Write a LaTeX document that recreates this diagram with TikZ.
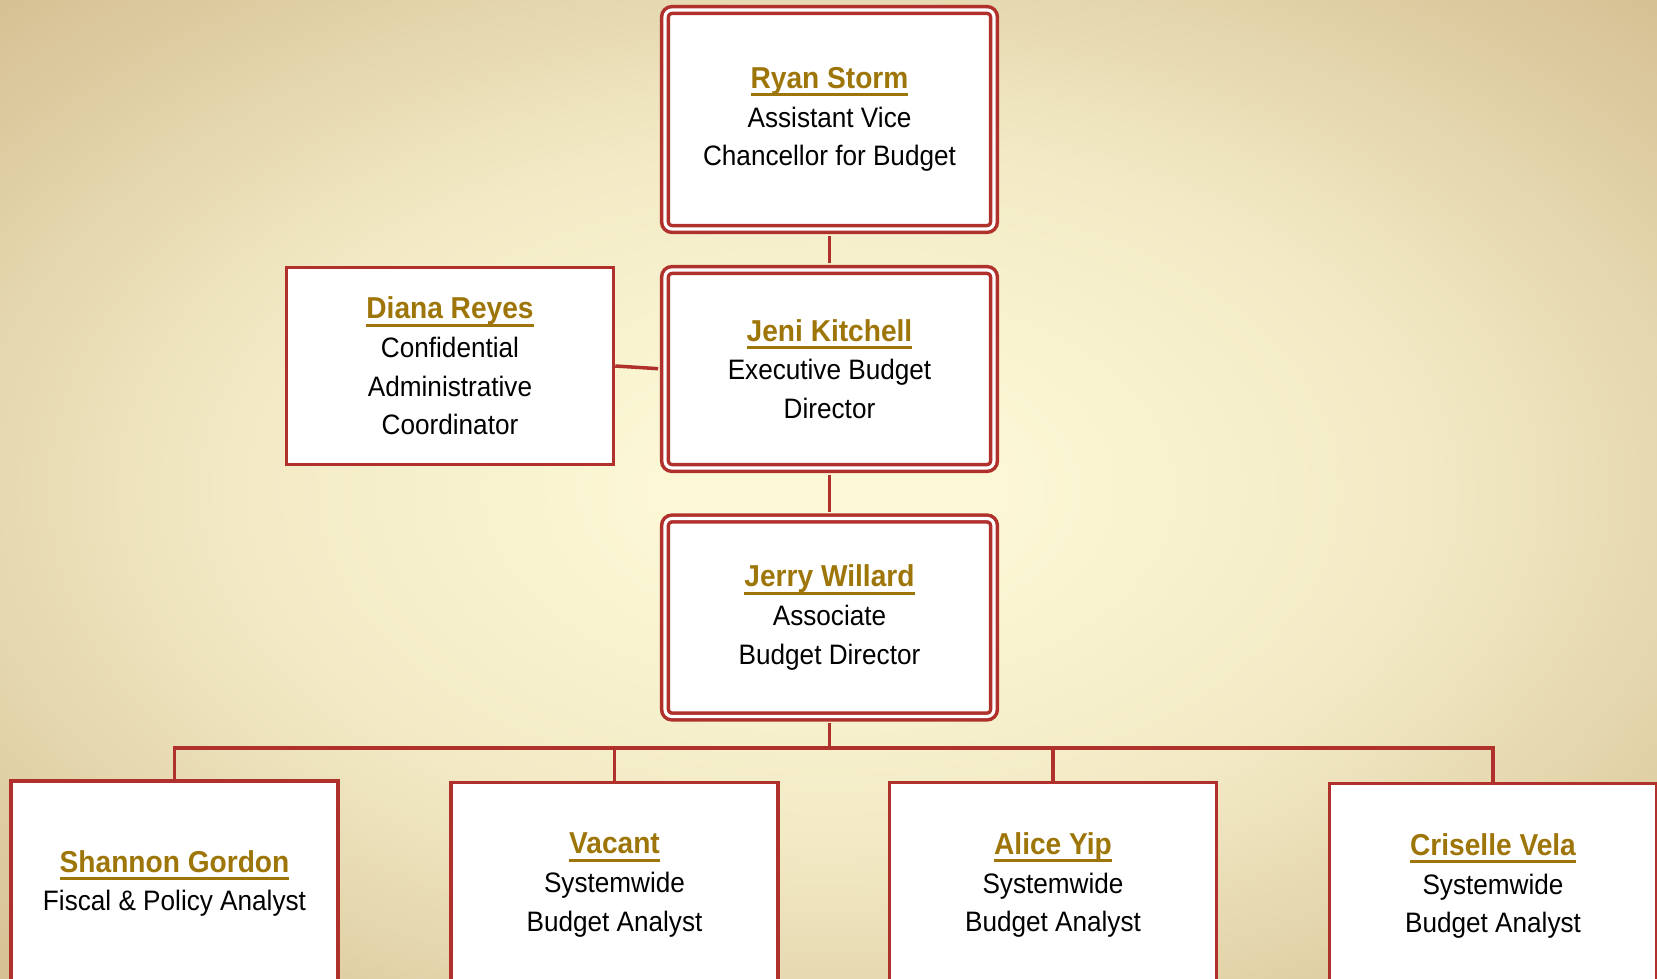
\documentclass[tikz,border=0pt]{standalone}
\usepackage{fontspec}
\setmainfont{Liberation Sans}[FakeStretch=0.93]
\usetikzlibrary{shapes.geometric, arrows}
\definecolor{boxred}{RGB}{176,48,44}
\definecolor{namegold}{RGB}{157,117,8}
\definecolor{bgcenter}{RGB}{253,248,214}
\definecolor{bgmid}{RGB}{242,234,197}
\definecolor{bgedge}{RGB}{214,193,148}
\definecolor{bgcorner}{RGB}{206,181,130}
\pgfdeclareradialshading{parchment}{\pgfpoint{0bp}{0bp}}{color(0bp)=(bgcenter); color(4bp)=(bgcenter); color(18bp)=(bgmid); color(35bp)=(bgedge); color(50bp)=(bgcorner)}
\newcommand{\pname}[1]{{\fontsize{8.6}{11}\selectfont\bfseries\color{namegold}\setbox0\hbox{#1}\rlap{\rule[-2.2pt]{\wd0}{0.8pt}}\box0}}
\tikzstyle{head} = [rectangle, rounded corners=2pt, minimum width=3.29cm, minimum height=1.98cm, fill=white, draw=boxred, line width=1pt, double=white, double distance=0.9pt, align=center, font=\fontsize{8}{11}\selectfont]
\tikzstyle{staff} = [rectangle, minimum width=3.27cm, minimum height=1.97cm, fill=white, draw=boxred, line width=1pt, align=center, font=\fontsize{8}{11}\selectfont]
\tikzstyle{link} = [draw=boxred, line width=1pt]

\begin{document}
\begin{tikzpicture}
    \useasboundingbox (0,0) rectangle (16.57,-9.79);
    \clip (0,0) rectangle (16.57,-9.79);
    \shade [shading=parchment] (0,0) rectangle (16.57,-9.79);
    \node [head, minimum height=2.19cm] at (8.295,-1.195) (ryan) {\pname{Ryan Storm}\\Assistant Vice\\Chancellor for Budget};
    \node [head] at (8.295,-3.69) (jeni) {\pname{Jeni Kitchell}\\Executive Budget\\Director};
    \node [head] at (8.295,-6.175) (jerry) {\pname{Jerry Willard}\\Associate\\Budget Director};
    \node [staff] at (4.5,-3.66) (diana) {\pname{Diana Reyes}\\Confidential\\Administrative\\Coordinator};
    \node [staff, minimum height=2.05cm] at (1.745,-8.835) (shannon) {\pname{Shannon Gordon}\\Fiscal \& Policy Analyst};
    \node [staff, minimum height=2.05cm] at (6.145,-8.85) (vacant) {\pname{Vacant}\\Systemwide\\Budget Analyst};
    \node [staff, minimum height=2.05cm] at (10.53,-8.85) (alice) {\pname{Alice Yip}\\Systemwide\\Budget Analyst};
    \node [staff, minimum height=2.05cm] at (14.93,-8.86) (criselle) {\pname{Criselle Vela}\\Systemwide\\Budget Analyst};
    \coordinate (bus) at (8.295,-7.48);
    \draw [link, shorten <=1.45pt, shorten >=1.45pt] (ryan) -- (jeni);
    \draw [link, shorten <=1.45pt, shorten >=1.45pt] (jeni) -- (jerry);
    \draw [link, shorten >=1.45pt] (diana.east) -- (jeni.west);
    \draw [link, shorten <=1.45pt] (jerry) -- (bus);
    \draw [link] (bus) -| (shannon);
    \draw [link] (bus) -| (vacant);
    \draw [link] (bus) -| (alice);
    \draw [link] (bus) -| (criselle);
    \end{tikzpicture}
\end{document}
